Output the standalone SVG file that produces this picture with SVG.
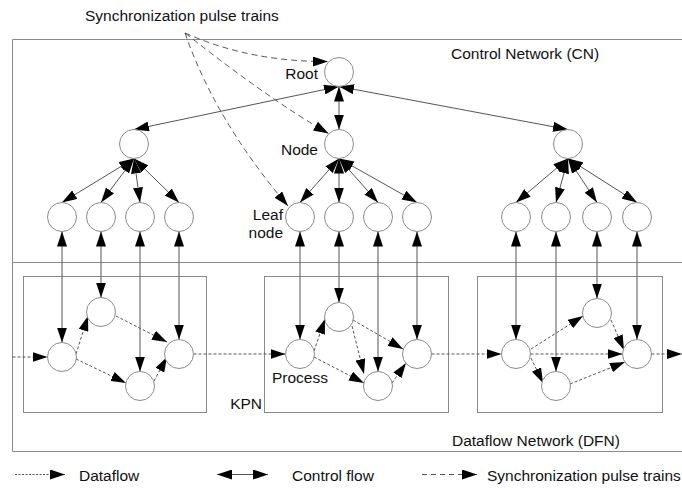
<svg xmlns="http://www.w3.org/2000/svg" width="682" height="488" viewBox="0 0 682 488">
<style>
text{font-family:"Liberation Sans",Arial,sans-serif;font-size:15.5px;fill:#111}
.c{fill:#fff;stroke:#8a8a8a;stroke-width:1}
.box{fill:none;stroke:#8a8a8a;stroke-width:1}
.ctl{fill:none;stroke:#555;stroke-width:1;marker-start:url(#ah);marker-end:url(#ah)}
.df{fill:none;stroke:#555;stroke-width:1;stroke-dasharray:3 2;marker-end:url(#ah)}
.sy{fill:none;stroke:#555;stroke-width:1;stroke-dasharray:6 4;marker-end:url(#ah)}
</style>
<defs>
<marker id="ah" markerUnits="userSpaceOnUse" viewBox="0 0 15 10" markerWidth="15" markerHeight="10" refX="15" refY="5" orient="auto-start-reverse"><path d="M0,0 L15,5 L0,10 z" fill="#000"/></marker>
</defs>
<rect width="682" height="488" fill="#fff"/>
<g id="networks">
<path class="box" d="M682,39.5 H12.5 V451.5 H682"/>
<path class="box" d="M12.5,262.5 H682"/>
<rect class="box" x="23.5" y="276.5" width="183" height="136"/>
<rect class="box" x="264.5" y="276.5" width="184" height="136"/>
<rect class="box" x="477.5" y="276.5" width="185" height="136"/>
<text x="451" y="59">Control Network (CN)</text>
<text x="452" y="446">Dataflow Network (DFN)</text>
<text x="262" y="409" text-anchor="end">KPN</text>
<text x="85" y="21">Synchronization pulse trains</text>
</g>
<g id="connectors">
<path class="ctl" d="M339,86.5 L134,129.5"/>
<path class="ctl" d="M339,86.5 L339,129.5"/>
<path class="ctl" d="M339,86.5 L568,129.5"/>
<path class="ctl" d="M134,158.5 L62,202.5"/>
<path class="ctl" d="M134,158.5 L101,202.5"/>
<path class="ctl" d="M134,158.5 L140,202.5"/>
<path class="ctl" d="M134,158.5 L179,202.5"/>
<path class="ctl" d="M339,158.5 L300,202.5"/>
<path class="ctl" d="M339,158.5 L339,202.5"/>
<path class="ctl" d="M339,158.5 L378,202.5"/>
<path class="ctl" d="M339,158.5 L417,202.5"/>
<path class="ctl" d="M568,158.5 L516,202.5"/>
<path class="ctl" d="M568,158.5 L556,202.5"/>
<path class="ctl" d="M568,158.5 L597,202.5"/>
<path class="ctl" d="M568,158.5 L637,202.5"/>
<path class="ctl" d="M62,231.5 V342.5"/>
<path class="ctl" d="M101,231.5 V297.5"/>
<path class="ctl" d="M140,231.5 V371.5"/>
<path class="ctl" d="M179,231.5 V339.5"/>
<path class="ctl" d="M300,231.5 V339.5"/>
<path class="ctl" d="M339,231.5 V302.5"/>
<path class="ctl" d="M378,231.5 V371.5"/>
<path class="ctl" d="M417,231.5 V339.5"/>
<path class="ctl" d="M516,231.5 V339.5"/>
<path class="ctl" d="M556,231.5 V371.5"/>
<path class="ctl" d="M597,231.5 V298.5"/>
<path class="ctl" d="M637,231.5 V339.5"/>
<path class="df" d="M12.5,357 H47.5"/>
<path class="df" d="M76,354 L88,316"/>
<path class="df" d="M116,316 L167,342"/>
<path class="df" d="M76,359 L126,383"/>
<path class="df" d="M154,381 L167,357"/>
<path class="df" d="M193.5,354 H285.5"/>
<path class="df" d="M314,351 L325,319"/>
<path class="df" d="M353,320 L403,349"/>
<path class="df" d="M352,326 L364,374"/>
<path class="df" d="M314,357 L364,383"/>
<path class="df" d="M392,383 L406,363"/>
<path class="df" d="M431.5,354 H501.5"/>
<path class="df" d="M531,349 L583,316"/>
<path class="df" d="M530.5,354 H622.5"/>
<path class="df" d="M531,358 L543,383"/>
<path class="df" d="M570,384 L625,362"/>
<path class="df" d="M611,320 L624,350"/>
<path class="df" d="M651.5,354 H682"/>
<path class="sy" d="M185,33 Q250,62 328,61.5"/>
<path class="sy" d="M185,33 Q270,100 328.5,133.5"/>
<path class="sy" d="M185,33 Q215,120 288,206"/>
</g>
<g id="root"><circle class="c" cx="339" cy="72" r="14.5"/><text x="318" y="79" text-anchor="end">Root</text></g>
<g id="node-left"><circle class="c" cx="134" cy="144" r="14.5"/></g>
<g id="node-mid"><circle class="c" cx="339" cy="144" r="14.5"/><text x="318" y="154.5" text-anchor="end">Node</text></g>
<g id="node-right"><circle class="c" cx="568" cy="144" r="14.5"/></g>
<g id="leaf-l1"><circle class="c" cx="62" cy="217" r="14.5"/></g>
<g id="leaf-l2"><circle class="c" cx="101" cy="217" r="14.5"/></g>
<g id="leaf-l3"><circle class="c" cx="140" cy="217" r="14.5"/></g>
<g id="leaf-l4"><circle class="c" cx="179" cy="217" r="14.5"/></g>
<g id="leaf-m1"><circle class="c" cx="300" cy="217" r="14.5"/><text x="283" y="220" text-anchor="end">Leaf</text><text x="283" y="238" text-anchor="end">node</text></g>
<g id="leaf-m2"><circle class="c" cx="339" cy="217" r="14.5"/></g>
<g id="leaf-m3"><circle class="c" cx="378" cy="217" r="14.5"/></g>
<g id="leaf-m4"><circle class="c" cx="417" cy="217" r="14.5"/></g>
<g id="leaf-r1"><circle class="c" cx="516" cy="217" r="14.5"/></g>
<g id="leaf-r2"><circle class="c" cx="556" cy="217" r="14.5"/></g>
<g id="leaf-r3"><circle class="c" cx="597" cy="217" r="14.5"/></g>
<g id="leaf-r4"><circle class="c" cx="637" cy="217" r="14.5"/></g>
<g id="proc-l-a"><circle class="c" cx="62" cy="357" r="14.5"/></g>
<g id="proc-l-b"><circle class="c" cx="101" cy="312" r="14.5"/></g>
<g id="proc-l-c"><circle class="c" cx="140" cy="386" r="14.5"/></g>
<g id="proc-l-d"><circle class="c" cx="179" cy="354" r="14.5"/></g>
<g id="proc-m-a"><circle class="c" cx="300" cy="354" r="14.5"/><text x="300" y="383" text-anchor="middle">Process</text></g>
<g id="proc-m-b"><circle class="c" cx="339" cy="317" r="14.5"/></g>
<g id="proc-m-c"><circle class="c" cx="378" cy="386" r="14.5"/></g>
<g id="proc-m-d"><circle class="c" cx="417" cy="354" r="14.5"/></g>
<g id="proc-r-a"><circle class="c" cx="516" cy="354" r="14.5"/></g>
<g id="proc-r-b"><circle class="c" cx="597" cy="313" r="14.5"/></g>
<g id="proc-r-c"><circle class="c" cx="556" cy="386" r="14.5"/></g>
<g id="proc-r-d"><circle class="c" cx="637" cy="354" r="14.5"/></g>
<g id="legend">
<path class="df" d="M15,474.5 H65" style="stroke-dasharray:2 1.5"/>
<text x="79" y="480.5">Dataflow</text>
<path class="ctl" d="M217,474.5 H268"/>
<text x="292" y="480.5">Control flow</text>
<path class="sy" d="M422,474.5 H477" style="stroke-dasharray:5 4"/>
<text x="487" y="480.5">Synchronization pulse trains</text>
</g>
</svg>
